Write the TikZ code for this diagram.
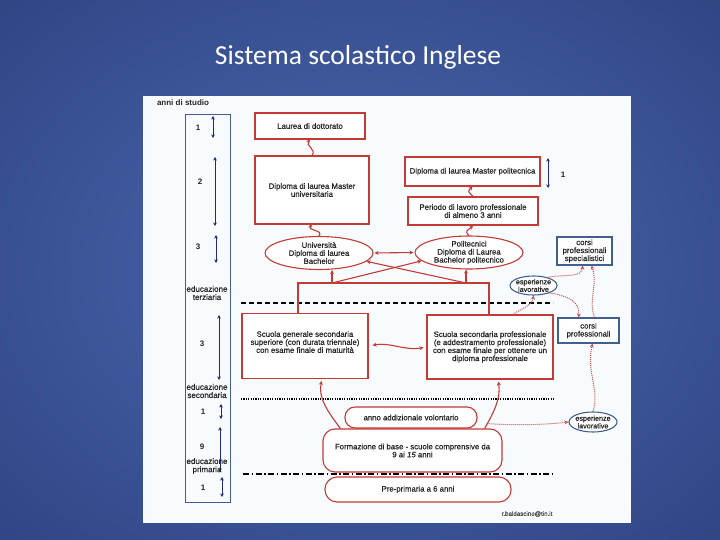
\documentclass[tikz,border=0pt]{standalone}
\usepackage{fontspec}
\setmainfont{Liberation Sans}
\newfontfamily\lblfam{Liberation Sans}[FakeBold=0.6]
\newfontfamily\titlefont{Carlito}
\usetikzlibrary{arrows.meta,shapes.geometric}
\definecolor{bgin}{HTML}{4C68AD}
\definecolor{bgmid}{HTML}{3A5395}
\definecolor{bgout}{HTML}{172861}
\definecolor{rd}{HTML}{C33A36}
\definecolor{rdd}{HTML}{C8504C}
\definecolor{bl}{HTML}{41608F}
\definecolor{nv}{HTML}{232A7E}
\definecolor{txt}{HTML}{262626}
\definecolor{panel}{HTML}{F8FBFE}
\pgfdeclareradialshading{bgshade}{\pgfpoint{0bp}{0bp}}{color(0bp)=(bgin); color(22bp)=(bgmid); color(66bp)=(bgout); color(75bp)=(bgout)}
\newcommand\lblfont{\lblfam\fontsize{7.8}{8}\selectfont}
\newcommand\smlfont{\lblfam\fontsize{7.2}{7.6}\selectfont}
\begin{document}
\begin{tikzpicture}[x=1pt,y=-1pt,
  rbox/.style={draw=rd, line width=1.1pt, fill=white, align=center, inner sep=1pt, font=\lblfont, text=txt},
  rround/.style={rbox, rounded corners=10pt},
  bbox/.style={rbox, draw=bl},
  ctext/.style={font=\lblfont, text=txt, align=center, inner sep=0pt},
  rell/.style={ellipse, draw=rd, line width=1.1pt, fill=white, inner sep=0pt},
  bell/.style={ellipse, draw=bl, line width=1.1pt, fill=white, inner sep=0pt},
  conn/.style={draw=rd, line width=1.1pt, -{Stealth[length=4pt,width=4pt]}},
  twoway/.style={{Stealth[length=4pt,width=4pt]}-{Stealth[length=4pt,width=4pt]}},
  dconn/.style={draw=rdd, line width=1pt, densely dotted, -{Stealth[length=4pt,width=4pt]}},
  yrs/.style={draw=nv, line width=1pt, {Stealth[length=3.5pt,width=3.5pt]}-{Stealth[length=3.5pt,width=3.5pt]}},
  sepline/.style={black, line width=1.6pt},
  numlbl/.style={font=\bfseries\fontsize{8}{8}\selectfont, text=txt, inner sep=0pt},
  collbl/.style={font=\lblfam\fontsize{8}{8.2}\selectfont, text=txt, align=center, inner sep=0pt}
]
\useasboundingbox (0,0) rectangle (720,540);
\shade[shading=bgshade] (0,0) rectangle (720,540);
\node[text=white, font=\titlefont\fontsize{27.5}{30}\selectfont] (title) at (358,57) {Sistema scolastico Inglese};
\fill[panel] (143,96) rectangle (631,523);

% separators
\draw[sepline, dash pattern=on 5pt off 3pt] (241,303) -- (553,303);
\draw[sepline, dash pattern=on 1.2pt off 1.2pt] (241,399) -- (555,399);
\draw[sepline, dash pattern=on 6pt off 2.5pt on 1.5pt off 2.5pt] (243,474) -- (555,474);

% left column
\node[font=\bfseries\fontsize{8}{8}\selectfont, text=txt] (anni) at (183,103) {anni di studio};
\node[draw=bl, line width=1pt, minimum width=45pt, minimum height=387pt, inner sep=0pt] (col) at (207.5,308.5) {};
\node[numlbl] (n1) at (198,128) {1};
\draw[yrs] (213,116) -- (213,138);
\node[numlbl] (n2) at (200,182) {2};
\draw[yrs] (215,157) -- (215,226);
\node[numlbl] (n3) at (198,247) {3};
\draw[yrs] (216,235) -- (216,263);
\node[collbl] (terz) at (207,293) {educazione\\terziaria};
\node[numlbl] (n4) at (202,344) {3};
\draw[yrs] (219,315) -- (219,380);
\node[collbl] (sec) at (207,391) {educazione\\secondaria};
\node[numlbl] (n5) at (203,412) {1};
\draw[yrs] (221,404) -- (221,419);
\node[numlbl] (n6) at (202,447) {9};
\draw[yrs] (220,427) -- (220,472);
\node[collbl] (prim) at (207,466) {educazione\\primaria};
\node[numlbl] (n7) at (203,488) {1};
\draw[yrs] (222,477) -- (222,497);

% university track
\node[rbox, minimum width=110pt, minimum height=26pt] (dott) at (310,126) {Laurea di dottorato};
\node[rbox, minimum width=114pt, minimum height=68pt] (mastu) at (312,190) {Diploma di laurea Master\\universitaria};
\node[rell, minimum width=108pt, minimum height=33pt, label={[ctext]center:Università\\Diploma di laurea\\Bachelor}] (univ) at (319,253) {};

% polytechnic track
\node[rbox, minimum width=135pt, minimum height=29pt] (mastp) at (472.5,171.5) {Diploma di laurea Master politecnica};
\node[numlbl] (n8) at (563,175) {1};
\draw[yrs] (548,158) -- (548,188);
\node[rbox, minimum width=130pt, minimum height=28pt] (periodo) at (473,211) {Periodo di lavoro professionale\\di almeno 3 anni};
\node[rell, minimum width=108pt, minimum height=33pt, label={[ctext]center:Politecnici\\Diploma di Laurea\\Bachelor politecnico}] (poli) at (469,252.5) {};

% right side
\node[bbox, minimum width=55pt, minimum height=28pt] (cspec) at (584.5,251) {corsi\\professionali\\specialistici};
\node[bell, minimum width=47pt, minimum height=19pt, label={[ctext,font=\smlfont]center:esperienze\\lavorative}] (esp1) at (533.5,285.5) {};
\node[bbox, minimum width=61pt, minimum height=25pt] (cprof) at (588.5,330.5) {corsi\\professionali};
\node[bell, minimum width=48pt, minimum height=20pt, label={[ctext,font=\smlfont]center:esperienze\\lavorative}] (esp2) at (593,422) {};

% secondary
\node[rbox, minimum width=126pt, minimum height=65pt] (sgen) at (305,346) {Scuola generale secondaria\\superiore (con durata triennale)\\con esame finale di maturità\\ \mbox{}};
\node[rbox, minimum width=126pt, minimum height=64pt] (sprof) at (490,347) {Scuola secondaria professionale\\(e addestramento professionale)\\con esame finale per ottenere un\\diploma professionale};

% primary
\node[rround, minimum width=132pt, minimum height=21pt] (anno) at (411,417.5) {anno addizionale volontario};
\node[rround, rounded corners=12pt, minimum width=179pt, minimum height=43pt] (form) at (412.5,450.5) {Formazione di base - scuole comprensive da\\9 ai \textit{15} anni};
\node[rround, rounded corners=12pt, minimum width=186pt, minimum height=25pt] (pre) at (418,489.5) {Pre-primaria a 6 anni};
\node[font=\lblfam\fontsize{6.2}{7}\selectfont, text=txt!85] (mail) at (527,514) {r.baldascino@tin.it};

% connectors
\draw[conn] (mastu.north) .. controls +(5,-6) and +(-5,6) .. (dott.south);
\draw[conn] (univ.north) .. controls +(5,-6) and +(-5,6) .. (mastu.south);
\draw[conn] (periodo.north) .. controls +(-5,-5) and +(-5,5) .. (mastp.south);
\draw[conn] (poli.north) .. controls +(-5,-5) and +(-5,5) .. (periodo.south);
\draw[conn, twoway, shorten <=1pt, shorten >=1pt] (univ.east) -- (poli.west);

\coordinate (jL) at (298,283);
\coordinate (jR) at (489,283);
\coordinate (aL) at (332,283);
\coordinate (aR) at (466,283);
\draw[rd, line width=1.5pt] (sgen.north -| jL) -- (jL) -- (jR) -- (sprof.north -| jR);
\draw[conn] (aL) -- (univ.south -| aL);
\draw[conn] (aR) -- (poli.south -| aR);
\draw[conn] (aL) -- (poli.190);
\draw[conn] (aR) -- (univ.350);

\draw[conn, twoway, shorten <=4pt, shorten >=3pt] (sgen.east) .. controls +(22,-4) and +(-22,4) .. (sprof.west);
\draw[conn, shorten >=2pt] (form.163) .. controls (328,412) and (318,398) .. ([xshift=17pt]sgen.south);
\draw[conn, shorten >=2pt] (form.17) .. controls (494,412) and (501,398) .. ([xshift=8pt]sprof.south);

\draw[dconn] ([shift={(9pt,-6pt)}]anno.east) .. controls +(25,2) and +(-25,3) .. (esp2.west);
\draw[dconn] (esp2.north) .. controls (600,390) and (586,372) .. ([xshift=4pt]cprof.south);
\draw[dconn] ([xshift=6pt]cprof.north) .. controls (588,300) and (598,285) .. ([xshift=7pt]cspec.south);
\draw[dconn] (esp1.-25) .. controls (570,296) and (580,303) .. ([xshift=-10pt]cprof.north);
\draw[dconn] (esp1.30) .. controls (565,274) and (582,278) .. ([xshift=-2pt]cspec.south);
\draw[dconn] ([xshift=23pt]sprof.north) .. controls (522,308) and (532,306) .. (esp1.south);
\end{tikzpicture}
\end{document}
